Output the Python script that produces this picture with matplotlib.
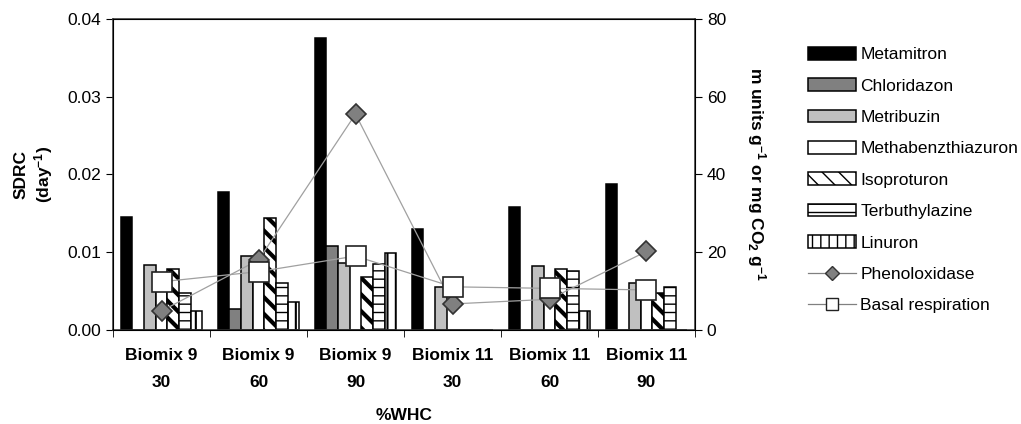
import matplotlib.pyplot as plt
import numpy as np
from matplotlib.lines import Line2D

plt.rcParams['font.family'] = ['Liberation Sans', 'DejaVu Sans']
plt.rcParams['mathtext.fontset'] = 'custom'
plt.rcParams['mathtext.rm'] = 'Liberation Sans:bold'
plt.rcParams['mathtext.default'] = 'rm'

# --- data ---
groups = ['Biomix 9\n30', 'Biomix 9\n60', 'Biomix 9\n90',
          'Biomix 11\n30', 'Biomix 11\n60', 'Biomix 11\n90']

metamitron = [0.0145, 0.0177, 0.0375, 0.0130, 0.0158, 0.0188]
chloridazon = [0.0, 0.0027, 0.0108, 0.0, 0.0, 0.0]
metribuzin = [0.0084, 0.0095, 0.0086, 0.0055, 0.0082, 0.0061]
methabenz = [0.0068, 0.0080, 0.0, 0.0, 0.0060, 0.0061]
isoproturon = [0.0078, 0.0144, 0.0068, 0.0, 0.0078, 0.0047]
terbuthylazine = [0.0048, 0.0061, 0.0085, 0.0, 0.0076, 0.0055]
linuron = [0.0025, 0.0036, 0.0099, 0.0, 0.0025, 0.0]

phenoloxidase = [4.9, 18.0, 55.5, 6.7, 7.9, 20.2]
basal_resp = [12.4, 15.0, 19.0, 11.1, 10.7, 10.3]

herbicides = ['Metamitron', 'Chloridazon', 'Metribuzin', 'Methabenzthiazuron',
              'Isoproturon', 'Terbuthylazine', 'Linuron']
bar_series = [metamitron, chloridazon, metribuzin, methabenz,
              isoproturon, terbuthylazine, linuron]
face = ['black', '#808080', '#c0c0c0', 'white', 'white', 'white', 'white']
hatches = [None, None, None, None, '\\\\', '--', '||']
hatch_lw = [1, 1, 1, 1, 3.0, 1.0, 1.5]

# --- figure ---
fig = plt.figure(figsize=(10.21, 4.24), dpi=100)
ax = fig.add_axes([0.1107, 0.2217, 0.5700, 0.7340])

x = np.arange(len(groups))
w = 1 / 8.3
bars = []
for j, vals in enumerate(bar_series):
    with plt.rc_context({'hatch.linewidth': hatch_lw[j]}):
        b = ax.bar(x + (j - 3) * w, vals, w, color=face[j], edgecolor='black',
                   linewidth=1.1, hatch=hatches[j], label=herbicides[j])
    bars.append(b)

ax.set_xlim(-0.5, 5.5)
ax.set_ylim(0, 0.04)
ax.set_yticks([0, 0.01, 0.02, 0.03, 0.04])
ax.set_yticklabels(['0.00', '0.01', '0.02', '0.03', '0.04'], fontsize=12.5)
ax.set_xticks(x)
ax.set_xticklabels(groups, fontsize=12.5, fontweight='bold', linespacing=2.0)
ax.set_xticks(np.arange(-0.5, 6, 1), minor=True)
ax.tick_params(axis='x', which='major', length=0, pad=13)
ax.tick_params(axis='x', which='minor', length=5, direction='out')
ax.tick_params(axis='y', length=5, direction='out')
ax.set_xlabel('%WHC', fontsize=12.5, fontweight='bold', labelpad=13)
ax.set_ylabel('SDRC\n(day$^{-1}$)', fontsize=12.5, fontweight='bold', labelpad=9)
for s in ax.spines.values():
    s.set_linewidth(1.1)
    s.set_color('#333333')

ax2 = ax.twinx()
ax2.set_ylim(0, 80)
ax2.set_yticks([0, 20, 40, 60, 80])
ax2.tick_params(axis='y', length=5, direction='out', labelsize=12.5)
ax2.plot(x, phenoloxidase, color='#a0a0a0', lw=0.9, marker='D', markersize=10,
         markerfacecolor='#808080', markeredgecolor='#333333', markeredgewidth=1.2)
ax2.plot(x, basal_resp, color='#a0a0a0', lw=0.9, marker='s', markersize=14,
         markerfacecolor='white', markeredgecolor='#222222', markeredgewidth=1.2)
ax2.set_ylabel('m units g$^{-1}$ or mg CO$_2$ g$^{-1}$', fontsize=12.5,
               fontweight='bold', rotation=-90, labelpad=30)

h_phen = Line2D([], [], color='#808080', lw=0.9, marker='D', markersize=7,
                markerfacecolor='#808080', markeredgecolor='#333333')
h_bas = Line2D([], [], color='#808080', lw=0.9, marker='s', markersize=8,
               markerfacecolor='white', markeredgecolor='#222222')
handles = bars + [h_phen, h_bas]
labels = herbicides + ['Phenoloxidase', 'Basal respiration']
fig.legend(handles, labels, loc='upper left', bbox_to_anchor=(0.783, 0.91),
           frameon=False, fontsize=12.5, handlelength=2.75, handleheight=0.75,
           labelspacing=0.92, handletextpad=0.25, borderpad=0)

fig.savefig('out.png', dpi=100)
